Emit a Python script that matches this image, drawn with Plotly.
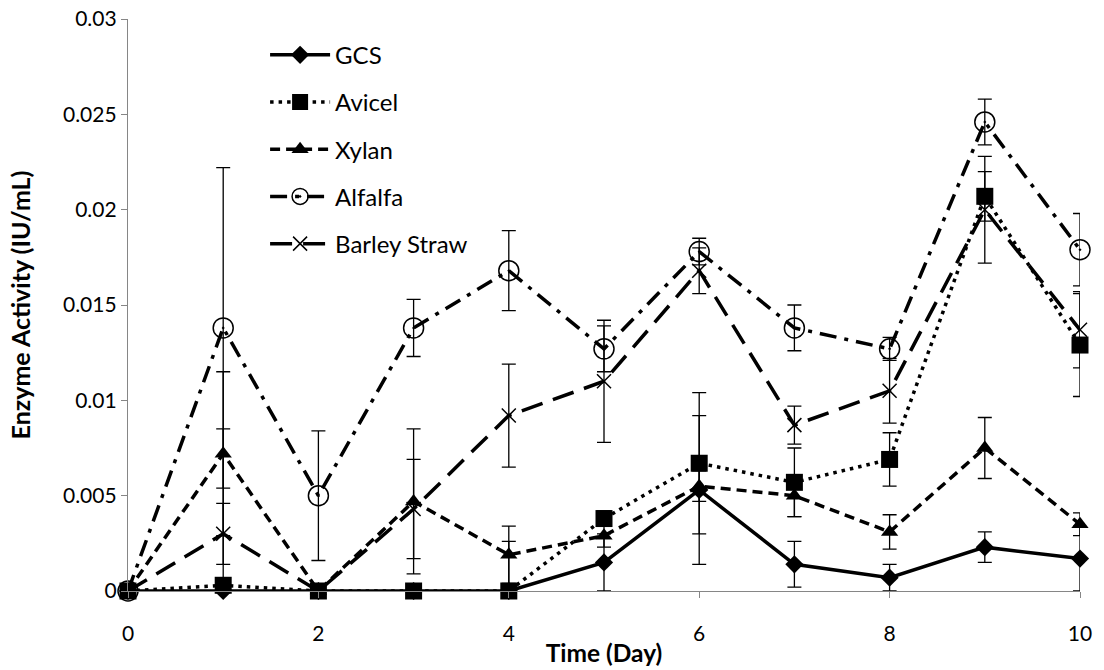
import plotly.graph_objects as go

days = [0, 1, 2, 3, 4, 5, 6, 7, 8, 9, 10]

series_names = ["GCS", "Avicel", "Xylan", "Alfalfa", "Barley Straw"]

gcs = [0, 0, 0, 0, 0, 0.0015, 0.0053, 0.0014, 0.0007, 0.0023, 0.0017]
gcs_err = [0, 0, 0, 0, 0, 0.0015, 0.0039, 0.0012, 0.0007, 0.0008, 0.0017]

avicel = [0, 0.0003, 0, 0, 0, 0.0038, 0.0067, 0.0057, 0.0069, 0.0207, 0.0129]
avicel_err = [0, 0.0082, 0, 0, 0.0026, 0.0004, 0.0037, 0.0018, 0.0014, 0.0013, 0.0027]

xylan = [0, 0.0072, 0, 0.0047, 0.0019, 0.0029, 0.0055, 0.0050, 0.0031, 0.0075, 0.0035]
xylan_err = [0, 0.0043, 0, 0.0038, 0.0015, 0.0006, 0.0008, 0.0011, 0.0009, 0.0016, 0.0006]

alfalfa = [0, 0.0138, 0.0050, 0.0138, 0.0168, 0.0127, 0.0178, 0.0138, 0.0127, 0.0246, 0.0179]
alfalfa_err = [0, 0.0084, 0.0034, 0.0015, 0.0021, 0.0012, 0.0007, 0.0012, 0.0006, 0.0012, 0.0019]

barley = [0, 0.0030, 0, 0.0043, 0.0092, 0.0110, 0.0168, 0.0087, 0.0105, 0.0200, 0.0137]
barley_err = [0, 0.0016, 0, 0.0026, 0.0027, 0.0032, 0.0012, 0.0010, 0.0017, 0.0028, 0.0020]

y_tickvals = [0, 0.005, 0.01, 0.015, 0.02, 0.025, 0.03]
y_ticktext = ["0", "0.005", "0.01", "0.015", "0.02", "0.025", "0.03"]
x_tickvals = [0, 2, 4, 6, 8, 10]

FONT = "Lato"

styles = [
    dict(dash="solid", symbol="diamond", size=14, mline=0),
    dict(dash="3.5px,5px", symbol="square", size=17, mline=0),
    dict(dash="10px,6px", symbol="triangle-up", size=15, mline=0),
    dict(dash="17px,8px,4px,8px", symbol="circle-open-dot", size=20, mline=1.5),
    dict(dash="22px,11px", symbol="x-thin-open", size=14, mline=1.5),
]

data = [(gcs, gcs_err), (avicel, avicel_err), (xylan, xylan_err),
        (alfalfa, alfalfa_err), (barley, barley_err)]

fig = go.Figure()
for name, (vals, errs), st in zip(series_names, data, styles):
    minus = [min(e, v) for v, e in zip(vals, errs)]
    fig.add_trace(go.Scatter(
        x=days, y=vals, name=name, mode="lines+markers",
        legendgroup=name,
        line=dict(color="black", width=3.5, dash=st["dash"]),
        marker=dict(symbol=st["symbol"], size=st["size"], color="black",
                    line=dict(color="black", width=st["mline"])),
        error_y=dict(type="data", array=errs, arrayminus=minus, visible=True,
                     color="black", thickness=1.3, width=7),
        cliponaxis=False,
    ))

fig.update_layout(
    width=1104, height=670,
    paper_bgcolor="white", plot_bgcolor="white",
    margin=dict(l=128, r=24, t=19, b=79),
    font=dict(family=FONT, color="black", size=21),
    showlegend=True,
    legend=dict(x=0.144, y=0.976, xanchor="left", yanchor="top",
                bgcolor="rgba(0,0,0,0)", font=dict(size=24, family=FONT),
                traceorder="grouped", tracegroupgap=13, itemwidth=60),
    xaxis=dict(range=[0, 10], tickvals=x_tickvals, showgrid=False, zeroline=False,
               showline=True, linecolor="#868686", linewidth=1.3,
               ticks="outside", ticklen=6, tickcolor="#868686",
               ticklabelstandoff=18, automargin=False, ticklabeloverflow="allow",
               tickfont=dict(size=21, family=FONT),
               title=dict(text="<b>Time (Day)</b>", font=dict(size=24.5, family=FONT), standoff=0)),
    yaxis=dict(range=[0, 0.03], tickvals=y_tickvals, ticktext=y_ticktext,
               showgrid=False, zeroline=False,
               showline=True, linecolor="#868686", linewidth=1.3,
               ticks="outside", ticklen=6, tickcolor="#868686",
               automargin=False, ticklabeloverflow="allow",
               tickfont=dict(size=21, family=FONT),
               title=dict(text="<b>Enzyme Activity (IU/mL)</b>", font=dict(size=25, family=FONT), standoff=25)),
)

fig.write_html("out.html", config={"displayModeBar": False},
               post_script="document.body.style.margin='0';")
